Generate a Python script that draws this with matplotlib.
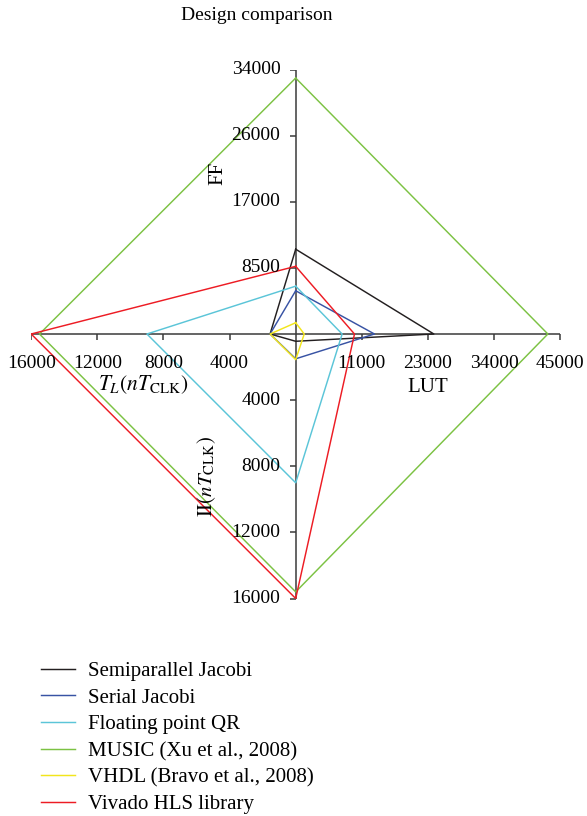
import matplotlib
matplotlib.use("Agg")
import matplotlib.pyplot as plt
import numpy as np

plt.rcParams["font.family"] = ["Liberation Serif", "DejaVu Serif"]
plt.rcParams["mathtext.fontset"] = "stix"

# Design metrics (one value per axis)
designs = ["Semiparallel Jacobi", "Serial Jacobi", "Floating point QR",
           "MUSIC (Xu et al., 2008)", "VHDL (Bravo et al., 2008)",
           "Vivado HLS library"]
colors = ["#231f20", "#3853a4", "#5bc5d8", "#7cc243", "#f2e51c", "#ed1c24"]

ff = [10900, 5560, 6150, 32900, 1450, 8700]
lut = [23500, 13400, 7900, 42900, 1450, 10000]
ii = [440, 1500, 9000, 15600, 1550, 16000]
tl = [1550, 1550, 9000, 15500, 1550, 16000]

# Axis scale maxima and tick labels
ff_max, lut_max, ii_max, tl_max = 34000, 45000, 16000, 16000
ff_ticks = ["8500", "17000", "26000", "34000"]
lut_ticks = ["11000", "23000", "34000", "45000"]
ii_ticks = ["4000", "8000", "12000", "16000"]
tl_ticks = ["4000", "8000", "12000", "16000"]

W, H = 587, 816
fig = plt.figure(figsize=(W / 100, H / 100), dpi=100)
cx, cy, r = 295.7, 334.0, 264.5
ax = fig.add_axes([(cx - r) / W, (H - cy - r) / H, 2 * r / W, 2 * r / H])
ax.set_xlim(-1, 1)
ax.set_ylim(-1, 1)
ax.axis("off")

axis_color = "#3a3a3a"
ax.plot([-1, 1], [0, 0], color=axis_color, lw=1.1, zorder=1)
ax.plot([0, 0], [-1, 1], color=axis_color, lw=1.1, zorder=1)

fs = 14
frac = np.array([0.25, 0.5, 0.75, 1.0])
# horizontal axis ticks (pointing down)
ax.plot(frac, np.zeros(4), ls="none", marker=3, ms=4.5, mew=1.1, color=axis_color)
ax.plot(-frac, np.zeros(4), ls="none", marker=3, ms=4.5, mew=1.1, color=axis_color)
# vertical axis ticks (pointing left)
ax.plot(np.zeros(4), frac, ls="none", marker=0, ms=4.5, mew=1.1, color=axis_color)
ax.plot(np.zeros(4), -frac, ls="none", marker=0, ms=4.5, mew=1.1, color=axis_color)

for f, lab in zip(frac, lut_ticks):
    ax.annotate(lab, (f, 0), xytext=(0, -21.5), textcoords="offset points",
                ha="center", va="center", fontsize=fs)
for f, lab in zip(frac, tl_ticks):
    ax.annotate(lab, (-f, 0), xytext=(0, -21.5), textcoords="offset points",
                ha="center", va="center", fontsize=fs)
for f, lab in zip(frac, ff_ticks):
    ax.annotate(lab, (0, f), xytext=(-11, 0), textcoords="offset points",
                ha="right", va="center", fontsize=fs)
for f, lab in zip(frac, ii_ticks):
    ax.annotate(lab, (0, -f), xytext=(-11, 0), textcoords="offset points",
                ha="right", va="center", fontsize=fs)

# axis titles
fig.text(217.7 / W, 1 - 173 / H, "FF", rotation=90, ha="center", va="center", fontsize=15)
fig.text(428 / W, 1 - 387 / H, "LUT", ha="center", va="center", fontsize=15)
fig.text(143 / W, 1 - 385 / H, r"$T_L(nT_{\mathrm{CLK}})$", ha="center", va="center", fontsize=15.5)
fig.text(207 / W, 1 - 477 / H, r"$\mathrm{II}(nT_{\mathrm{CLK}})$", rotation=90,
         ha="center", va="center", fontsize=15)

fig.text(257 / W, 1 - 15 / H, "Design comparison", ha="center", va="center", fontsize=14)

handles = []
for name, c, a, b, d, e in zip(designs, colors, ff, lut, ii, tl):
    xs = [0, b / lut_max, 0, -e / tl_max, 0]
    ys = [a / ff_max, 0, -d / ii_max, 0, a / ff_max]
    h, = ax.plot(xs, ys, color=c, lw=1.05, label=name, zorder=2)
    handles.append(h)

fig.legend(handles=handles, loc="upper left", bbox_to_anchor=(41 / W, 1 - 661.5 / H),
           frameon=False, fontsize=15, borderpad=0, borderaxespad=0,
           handlelength=1.63, handletextpad=0.62, labelspacing=0.34)

fig.savefig("out.png", dpi=100)
